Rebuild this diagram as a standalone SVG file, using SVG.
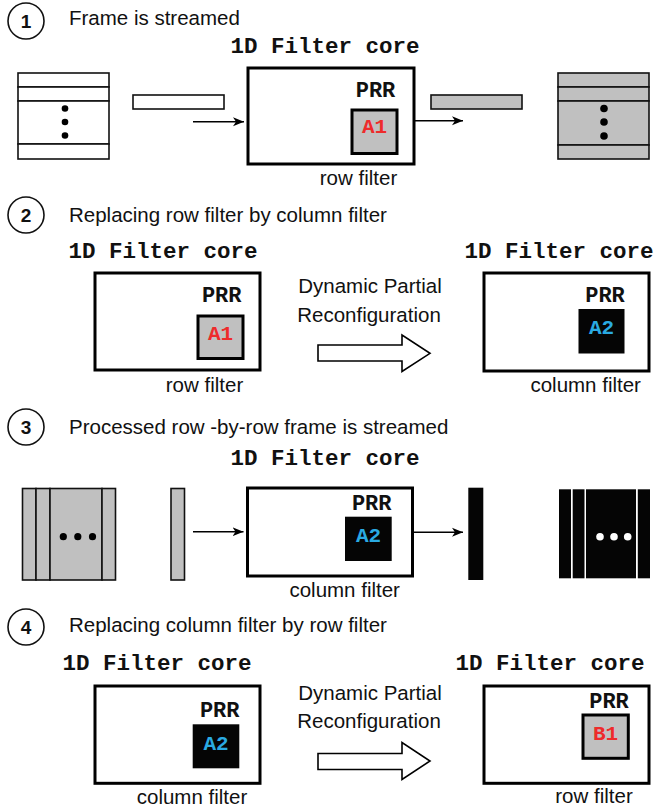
<svg xmlns="http://www.w3.org/2000/svg" width="655" height="809" viewBox="0 0 655 809">
<defs>
<marker id="ah" markerWidth="12" markerHeight="10" refX="11" refY="5" orient="auto" markerUnits="userSpaceOnUse">
<path d="M0,0.5 L11,5 L0,9.5 L3,5 Z" fill="#000"/>
</marker>
<style>
.lbl{font-family:"Liberation Sans",Arial,sans-serif;font-size:20.5px;fill:#111}
.step{font-family:"Liberation Sans",Arial,sans-serif;font-size:19px;font-weight:bold;fill:#111;text-anchor:middle}
.circ{fill:#fff;stroke:#111;stroke-width:1.6}
.core{font-family:"Liberation Mono","Courier New",monospace;font-size:22.5px;font-weight:bold;fill:#111;text-anchor:middle}
.prr{font-family:"Liberation Mono","Courier New",monospace;font-size:22px;font-weight:bold;fill:#111;text-anchor:middle}
.mod{font-family:"Liberation Mono","Courier New",monospace;font-size:21px;font-weight:bold;text-anchor:middle}
.box{fill:#fff;stroke:#000;stroke-width:3}
.gbox{fill:#c0c0c0;stroke:#000;stroke-width:3}
.bbox{fill:#050505}
.red{fill:#ee2b2b}
.blue{fill:#2aaae2}
.wf{fill:#fff;stroke:#111;stroke-width:1.6}
.gf{fill:#c0c0c0;stroke:#111;stroke-width:1.6}
.arr{stroke:#000;stroke-width:1.6;fill:none}
.big{fill:#fff;stroke:#000;stroke-width:1.6}
.mid{text-anchor:middle}
</style>
</defs>
<rect width="655" height="809" fill="#fff"/>

<!-- Step headings -->
<g id="step1">
<circle class="circ" cx="26" cy="21" r="18"/>
<text class="step" x="26" y="28">1</text>
<text class="lbl" x="69" y="25">Frame is streamed</text>
</g>
<g id="step2">
<circle class="circ" cx="26" cy="215" r="18"/>
<text class="step" x="26" y="222">2</text>
<text class="lbl" x="69" y="221.5">Replacing row filter by column filter</text>
</g>
<g id="step3">
<circle class="circ" cx="26" cy="427" r="18"/>
<text class="step" x="26" y="434">3</text>
<text class="lbl" x="69" y="433.5">Processed row -by-row frame is streamed</text>
</g>
<g id="step4">
<circle class="circ" cx="26" cy="627" r="18"/>
<text class="step" x="26" y="634">4</text>
<text class="lbl" x="69" y="631.5">Replacing column filter by row filter</text>
</g>

<!-- Section 1 -->
<g id="frame1-in">
<rect class="wf" x="18" y="73" width="91" height="14"/>
<rect class="wf" x="18" y="87" width="91" height="14"/>
<rect class="wf" x="18" y="101" width="91" height="43"/>
<rect class="wf" x="18" y="144" width="91" height="15"/>
<circle cx="65" cy="108.5" r="3.3" fill="#000"/>
<circle cx="65" cy="122" r="3.3" fill="#000"/>
<circle cx="65" cy="135.5" r="3.3" fill="#000"/>
</g>
<g id="row1-in">
<rect class="wf" x="133" y="95" width="91" height="14"/>
</g>
<g id="core1">
<text class="core" x="325" y="53">1D Filter core</text>
<rect class="box" x="248" y="68" width="166" height="96"/>
<text class="prr" x="375.5" y="96.5">PRR</text>
<rect class="gbox" x="352" y="110" width="45" height="43.5"/>
<text class="mod red" x="374.5" y="132.5">A1</text>
<text class="lbl mid" x="358.5" y="185">row filter</text>
</g>
<g id="row1-out">
<rect class="gf" x="431" y="95" width="91" height="14"/>
</g>
<g id="frame1-out">
<rect class="gf" x="558" y="73" width="91" height="14"/>
<rect class="gf" x="558" y="87" width="91" height="14"/>
<rect class="gf" x="558" y="101" width="91" height="44"/>
<rect class="gf" x="558" y="145" width="91" height="14"/>
<circle cx="604" cy="108.5" r="3.8" fill="#000"/>
<circle cx="604" cy="122" r="3.8" fill="#000"/>
<circle cx="604" cy="136" r="3.8" fill="#000"/>
</g>

<!-- Section 2 -->
<g id="core2a">
<text class="core" x="163" y="258.3">1D Filter core</text>
<rect class="box" x="95" y="273" width="165" height="97"/>
<text class="prr" x="221.7" y="301.7">PRR</text>
<rect class="gbox" x="198" y="316" width="45" height="42.5"/>
<text class="mod red" x="220.5" y="339.5">A1</text>
<text class="lbl mid" x="204.5" y="391.7">row filter</text>
</g>
<g id="dpr2">
<text class="lbl mid" x="370" y="293.3">Dynamic Partial</text>
<text class="lbl mid" x="369" y="321.7">Reconfiguration</text>
</g>
<g id="core2b">
<text class="core" x="559" y="257.7">1D Filter core</text>
<rect class="box" x="484" y="273" width="165" height="98"/>
<text class="prr" x="605" y="301.7">PRR</text>
<rect class="bbox" x="578.5" y="309" width="46" height="44.5"/>
<text class="mod blue" x="601.5" y="334">A2</text>
<text class="lbl mid" x="585.7" y="391.7">column filter</text>
</g>

<!-- Section 3 -->
<g id="frame3-in">
<rect class="gf" x="22.5" y="488.5" width="13.5" height="91.5"/>
<rect class="gf" x="36" y="488.5" width="14" height="91.5"/>
<rect class="gf" x="50" y="488.5" width="52" height="91.5"/>
<rect class="gf" x="102" y="488.5" width="13.5" height="91.5"/>
<circle cx="63.3" cy="536.7" r="3.6" fill="#000"/>
<circle cx="77.8" cy="536.7" r="3.6" fill="#000"/>
<circle cx="92.5" cy="536.7" r="3.6" fill="#000"/>
</g>
<g id="col3-in">
<rect class="gf" x="171" y="488.5" width="13.5" height="91.5"/>
</g>
<g id="core3">
<text class="core" x="325" y="465">1D Filter core</text>
<rect class="box" x="247.5" y="488" width="165" height="88"/>
<text class="prr" x="371.7" y="510">PRR</text>
<rect class="bbox" x="345" y="516.7" width="46.7" height="44.3"/>
<text class="mod blue" x="368.5" y="541.7">A2</text>
<text class="lbl mid" x="344.7" y="596.7">column filter</text>
</g>
<g id="col3-out">
<rect x="468.3" y="487.7" width="15" height="92.3" fill="#050505"/>
</g>
<g id="frame3-out">
<rect x="559" y="489.3" width="12" height="89" fill="#050505"/>
<rect x="572.7" y="489.3" width="11.8" height="89" fill="#050505"/>
<rect x="586" y="489.3" width="50" height="89" fill="#050505"/>
<rect x="637.8" y="489.3" width="12.2" height="89" fill="#050505"/>
<circle cx="600" cy="536.7" r="3.8" fill="#fff"/>
<circle cx="614" cy="536.7" r="3.8" fill="#fff"/>
<circle cx="627.7" cy="536.7" r="3.8" fill="#fff"/>
</g>

<!-- Section 4 -->
<g id="core4a">
<text class="core" x="157" y="670">1D Filter core</text>
<rect class="box" x="95" y="686" width="165" height="97.3"/>
<text class="prr" x="219.7" y="716.7">PRR</text>
<rect class="bbox" x="192.7" y="724.3" width="46.6" height="44"/>
<text class="mod blue" x="216" y="750">A2</text>
<text class="lbl mid" x="192" y="804">column filter</text>
</g>
<g id="dpr4">
<text class="lbl mid" x="370" y="700">Dynamic Partial</text>
<text class="lbl mid" x="369" y="728.3">Reconfiguration</text>
</g>
<g id="core4b">
<text class="core" x="550" y="670">1D Filter core</text>
<rect class="box" x="484" y="686" width="165" height="97.3"/>
<text class="prr" x="609" y="708.3">PRR</text>
<rect class="gbox" x="583" y="715" width="45.3" height="43.3"/>
<text class="mod red" x="605.5" y="740">B1</text>
<text class="lbl mid" x="594" y="803.3">row filter</text>
</g>

<!-- Connectors -->
<g id="connectors">
<line class="arr" x1="193" y1="121.7" x2="244" y2="121.7" marker-end="url(#ah)"/>
<line class="arr" x1="414" y1="120.7" x2="463" y2="120.7" marker-end="url(#ah)"/>
<polygon class="big" points="318,345 402,345 402,335 430,353.3 402,371.5 402,361 318,361"/>
<line class="arr" x1="193" y1="531.7" x2="243.5" y2="531.7" marker-end="url(#ah)"/>
<line class="arr" x1="412" y1="532.3" x2="463" y2="532.3" marker-end="url(#ah)"/>
<polygon class="big" points="318,753.5 402,753.5 402,742.5 430,761 402,779.5 402,769.5 318,769.5"/>
</g>
</svg>
